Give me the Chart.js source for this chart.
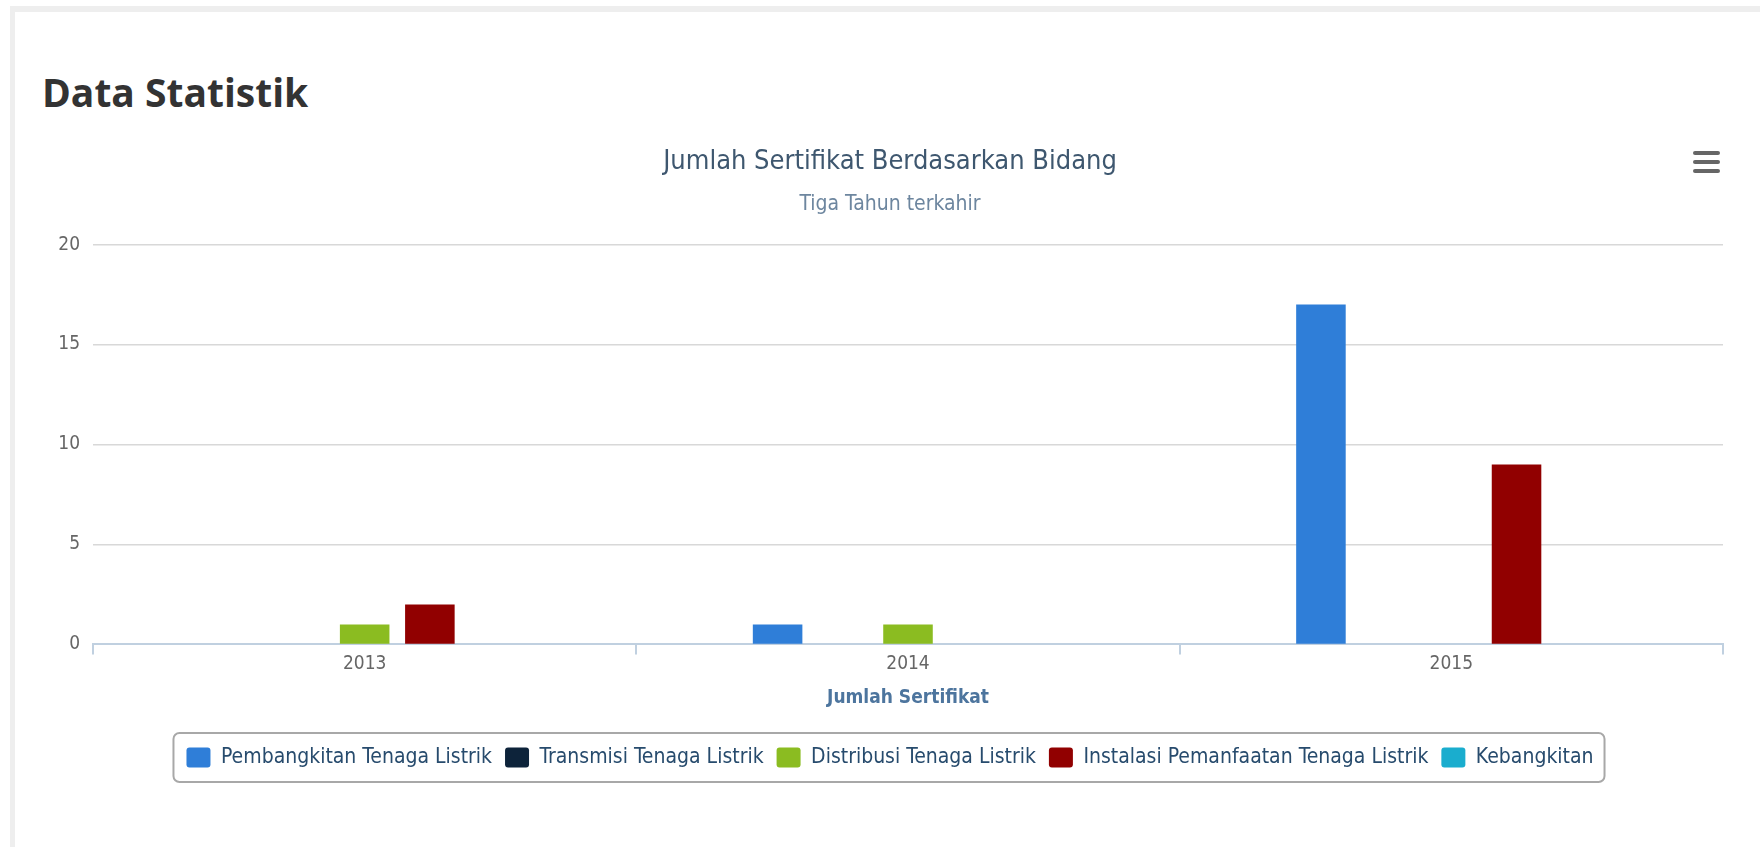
<!DOCTYPE html>
<html>
<head>
<meta charset="utf-8">
<title>Data Statistik</title>
<script src="https://cdn.jsdelivr.net/npm/chart.js@4.4.0/dist/chart.umd.min.js"></script>
<style>
    html, body { margin: 0; padding: 0; background: #fff; }
    body { width: 1760px; height: 847px; position: relative; overflow: hidden; }
    #panel { position: absolute; left: 10px; top: 6px; right: 0; bottom: 0; border-top: 6px solid #eeeeee; border-left: 5px solid #eeeeee; }
    #wrap { position: absolute; left: 0; top: 0; width: 1760px; height: 847px; }
    h2 { position: absolute; left: 42px; top: 72px; margin: 0; font: 700 39px/40px 'Open Sans', sans-serif; color: #333; }
    #menu { position: absolute; left: 1693px; top: 151px; width: 27px; }
    #menu span { display: block; height: 4px; margin-bottom: 5px; background: #666; border-radius: 2px; }
</style>
</head>
<body>
<div id="panel"></div>
<h2>Data Statistik</h2>
<div id="wrap"><canvas id="chartBidang"></canvas></div>
<div id="menu"><span></span><span></span><span></span></div>
<script>
const tahun = ['2013', '2014', '2015'];
const bidang = ['Pembangkitan Tenaga Listrik', 'Transmisi Tenaga Listrik', 'Distribusi Tenaga Listrik', 'Instalasi Pemanfaatan Tenaga Listrik', 'Kebangkitan'];
const pembangkitan = [0, 1, 17];
const transmisi = [0, 0, 0];
const distribusi = [1, 1, 0];
const instalasi = [2, 0, 9];
const kebangkitan = [0, 0, 0];
const warna = ['#2f7ed8', '#0d233a', '#8bbc21', '#910000', '#1aadce'];
const yMax = 20;
const yStep = 5;

Chart.defaults.font.family = "'DejaVu Sans Condensed', 'Liberation Sans Narrow', 'DejaVu Sans', sans-serif";

// kotak di sekeliling legend (gaya highcharts)
const legendBorder = {
    id: 'legendBorder',
    afterDraw(chart) {
        const boxes = chart.legend.legendHitBoxes;
        if (!boxes || !boxes.length) return;
        const first = boxes[0];
        const last = boxes[boxes.length - 1];
        const x = first.left - 13;
        const y = first.top - 14;
        const w = last.left + last.width + 11 - x;
        const h = first.height + 28;
        const ctx = chart.ctx;
        ctx.save();
        ctx.strokeStyle = '#a8a8a8';
        ctx.lineWidth = 2;
        ctx.beginPath();
        ctx.roundRect(x, y, w, h, 6);
        ctx.stroke();
        ctx.restore();
    }
};

function buatDataset(label, data, i) {
    return {
        label: label,
        data: data,
        backgroundColor: warna[i],
        borderWidth: 0,
        barPercentage: 0.76,
        categoryPercentage: 0.6
    };
}

const seri = [pembangkitan, transmisi, distribusi, instalasi, kebangkitan];

new Chart(document.getElementById('chartBidang'), {
    type: 'bar',
    data: {
        labels: tahun,
        datasets: seri.map((d, i) => buatDataset(bidang[i], d, i))
    },
    options: {
        responsive: true,
        maintainAspectRatio: false,
        animation: false,
        layout: { padding: { left: 57, right: 37, top: 0, bottom: 69 } },
        scales: {
            x: {
                grid: { display: true, drawOnChartArea: false, drawTicks: true, tickLength: 10, color: '#c0d0e0', lineWidth: 2, offset: true },
                border: { display: true, color: '#c0d0e0', width: 2 },
                ticks: { color: '#666', font: { size: 19 }, padding: -2 },
                title: {
                    display: true,
                    text: 'Jumlah Sertifikat',
                    color: '#4d759e',
                    font: { size: 19, weight: 'bold' },
                    padding: { top: 13, bottom: 25 }
                }
            },
            y: {
                min: 0,
                max: yMax,
                ticks: { stepSize: yStep, color: '#666', font: { size: 19 }, padding: 13 },
                grid: {
                    drawTicks: false,
                    lineWidth: 1.5,
                    color: c => (c.tick && c.tick.value === 0) ? 'rgba(0,0,0,0)' : '#d8d8d8'
                },
                border: { display: false },
                afterFit(scale) { scale.width = 36; }
            }
        },
        plugins: {
            title: {
                display: true,
                text: 'Jumlah Sertifikat Berdasarkan Bidang',
                color: '#3E576F',
                font: { size: 27, weight: 'normal' },
                padding: { top: 146, bottom: 14 }
            },
            subtitle: {
                display: true,
                text: 'Tiga Tahun terkahir',
                color: '#6D869F',
                font: { size: 21, weight: 'normal' },
                padding: { top: 0, bottom: 27 }
            },
            legend: {
                position: 'bottom',
                labels: {
                    boxWidth: 24,
                    boxHeight: 20,
                    padding: 13,
                    color: '#274b6d',
                    font: { size: 21 },
                    useBorderRadius: true,
                    borderRadius: 3
                }
            },
            tooltip: { enabled: false }
        }
    },
    plugins: [legendBorder]
});
</script>
</body>
</html>
